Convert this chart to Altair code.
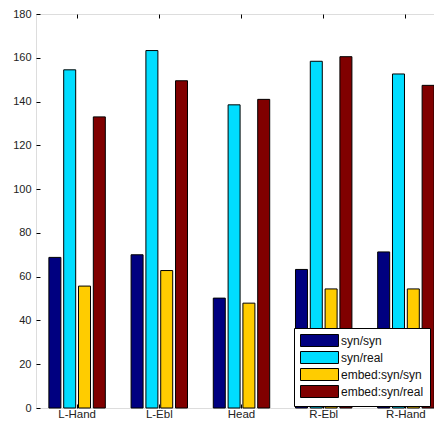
import altair as alt
import pandas as pd

categories = ["L-Hand", "L-Ebl", "Head", "R-Ebl", "R-Hand"]
series = ["syn/syn", "syn/real", "embed:syn/syn", "embed:syn/real"]
syn_syn = [68.8, 70.0, 50.2, 63.3, 71.3]
syn_real = [154.5, 163.3, 138.5, 158.4, 152.6]
embed_syn_syn = [55.7, 62.8, 47.9, 54.4, 54.4]
embed_syn_real = [133.0, 149.5, 141.0, 160.5, 147.4]
colors = ["#000080", "#00DDFF", "#FFCC00", "#800000"]
y_ticks = [0, 20, 40, 60, 80, 100, 120, 140, 160, 180]

rows = []
for s, vals in zip(series, [syn_syn, syn_real, embed_syn_syn, embed_syn_real]):
    for c, v in zip(categories, vals):
        rows.append({"category": c, "series": s, "value": v})
df = pd.DataFrame(rows)

FONT = "Liberation Sans"

x_scale = alt.Scale(domain=categories, range=[0, 411], paddingInner=0, paddingOuter=0)
y_scale = alt.Scale(domain=[0, 180], nice=False)

bars = alt.Chart(df).mark_bar(stroke="black", strokeWidth=1).encode(
    x=alt.X("category:N", sort=categories, scale=x_scale,
            axis=alt.Axis(orient="bottom", title=None, labelAngle=0, domain=False,
                          ticks=True, tickSize=4, offset=-4, tickColor="black",
                          labelPadding=0, labelFont=FONT, labelFontSize=11.5,
                          labelColor="#222", grid=False)),
    xOffset=alt.XOffset("series:N", sort=series,
                        scale=alt.Scale(paddingInner=0.19, paddingOuter=0.87)),
    y=alt.Y("value:Q", scale=y_scale,
            axis=alt.Axis(orient="left", title=None, values=y_ticks, domain=False,
                          ticks=True, tickSize=4, offset=-4, tickColor="black",
                          labelPadding=5, labelFont=FONT, labelFontSize=11,
                          labelColor="#222", grid=False)),
    color=alt.Color("series:N", sort=series,
                    scale=alt.Scale(domain=series, range=colors),
                    legend=alt.Legend(title=None, orient="none", legendX=258, legendY=314,
                                      fillColor="white", strokeColor="black",
                                      padding=6, symbolType="M-1,-1H5.333V1H-1Z",
                                      symbolSize=144, symbolStrokeColor="black",
                                      symbolStrokeWidth=1, symbolOpacity=1,
                                      labelFont=FONT, labelFontSize=12, labelColor="#111",
                                      labelOffset=28, rowPadding=0, cornerRadius=0)),
)

top_ticks = alt.Chart(df).mark_bar(opacity=0).encode(
    x=alt.X("category:N", sort=categories,
            axis=alt.Axis(orient="top", title=None, labels=False, domain=False,
                          ticks=True, tickSize=4, offset=-4, tickColor="black", grid=False)),
)

chart = alt.layer(bars, top_ticks).resolve_axis(x="independent").properties(
    width=398, height=394,
    autosize=alt.AutoSizeParams(type="none"),
    padding={"left": 28, "top": 6, "right": 0, "bottom": 13},
).configure_view(stroke="black", strokeWidth=1).configure(background="white")

chart.save("out.html", embed_options={"renderer": "svg", "actions": False})
